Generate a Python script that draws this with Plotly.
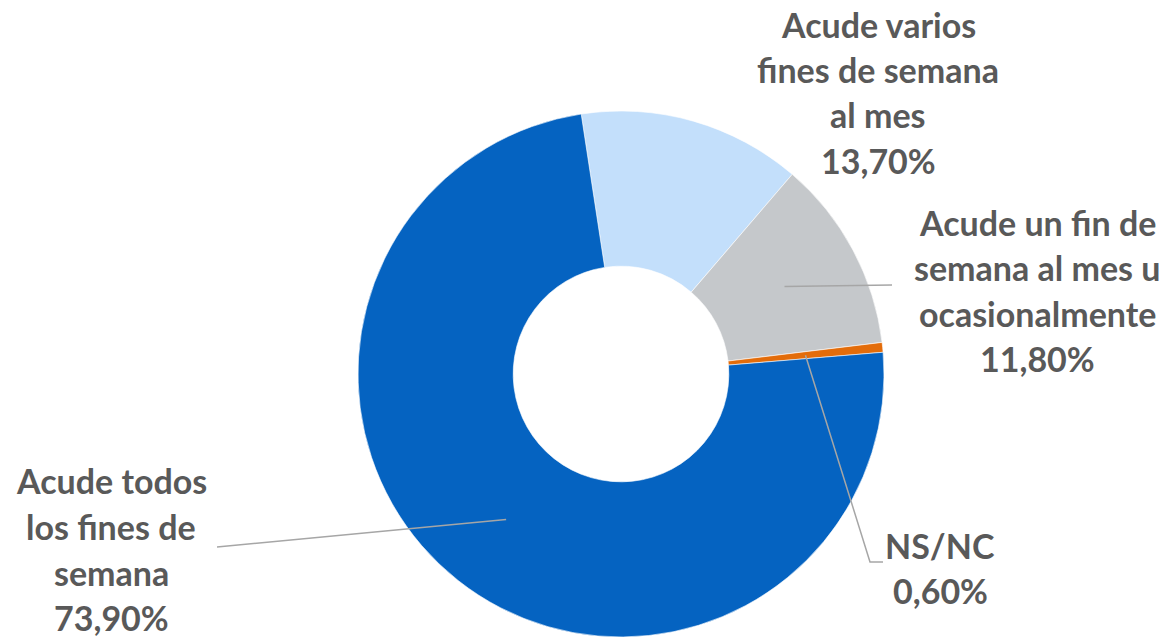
import math
import plotly.graph_objects as go

# ---- data ----
labels = ["Acude varios fines de semana al mes",
          "Acude un fin de semana al mes u ocasionalmente",
          "NS/NC",
          "Acude todos los fines de semana"]
values = [13.7, 11.8, 0.6, 73.9]
label_lines = [["Acude varios", "fines de semana", "al mes", "13,70%"],
               ["Acude un fin de", "semana al mes u", "ocasionalmente", "11,80%"],
               ["NS/NC", "0,60%"],
               ["Acude todos", "los fines de", "semana", "73,90%"]]
colors = ["#C3DFFB", "#C5C8CB", "#E36C0A", "#0563C1"]

# ---- layout constants (pixels) ----
W, H = 1173, 637
CX, CY, R = 621, 374, 263
HOLE = 0.41
ROTATION = -8.7
TEXT_COLOR = "#595959"
LINE_COLOR = "#A6A6A6"
FONT = dict(family="Lato", size=34, color=TEXT_COLOR, weight="bold")
LINE_GAP = 45.5
# label block: (center x, first-line center y)
label_pos = [(878, 24), (1037, 222), (940, 545), (111, 481)]
# leader line path after the slice anchor (pixels), None = no leader
leader_paths = [None, [(892, 285)], [(870, 562), (883, 562)], [(217, 547)]]


def px(x):
    return x / W


def py(y):
    return 1 - y / H


fig = go.Figure(go.Pie(
    labels=labels, values=values, sort=False, direction="clockwise",
    rotation=ROTATION, hole=HOLE, textinfo="none", hoverinfo="label+percent",
    marker=dict(colors=colors, line=dict(color="white", width=0.6)),
    domain=dict(x=[px(CX - R), px(CX + R)], y=[py(CY + R), py(CY - R)]),
    showlegend=False,
))

# leader lines from slice mid-angle at ring center
total = sum(values)
ang = ROTATION
shapes = []
for v, path in zip(values, leader_paths):
    mid = ang + v / total * 360 / 2
    ang += v / total * 360
    if path is None:
        continue
    rr = R * (1 + HOLE) / 2
    sx = CX + rr * math.sin(math.radians(mid))
    sy = CY - rr * math.cos(math.radians(mid))
    pts = [(sx, sy)] + path
    d = "M " + " L ".join(f"{px(x):.5f},{py(y):.5f}" for x, y in pts)
    shapes.append(dict(type="path", path=d, xref="paper", yref="paper",
                       line=dict(color=LINE_COLOR, width=1.5)))

annotations = []
for lines, (lx, ly) in zip(label_lines, label_pos):
    for i, t in enumerate(lines):
        annotations.append(dict(text=t, x=px(lx), y=py(ly + i * LINE_GAP),
                                xref="paper", yref="paper", showarrow=False,
                                xanchor="center", yanchor="middle", font=FONT))

fig.update_layout(width=W, height=H, margin=dict(l=0, r=0, t=0, b=0),
                  paper_bgcolor="white", plot_bgcolor="white",
                  shapes=shapes, annotations=annotations)
fig.write_html("out.html", config={"displayModeBar": False},
               post_script="document.body.style.margin='0';"
                           "document.body.style.overflow='hidden';")
